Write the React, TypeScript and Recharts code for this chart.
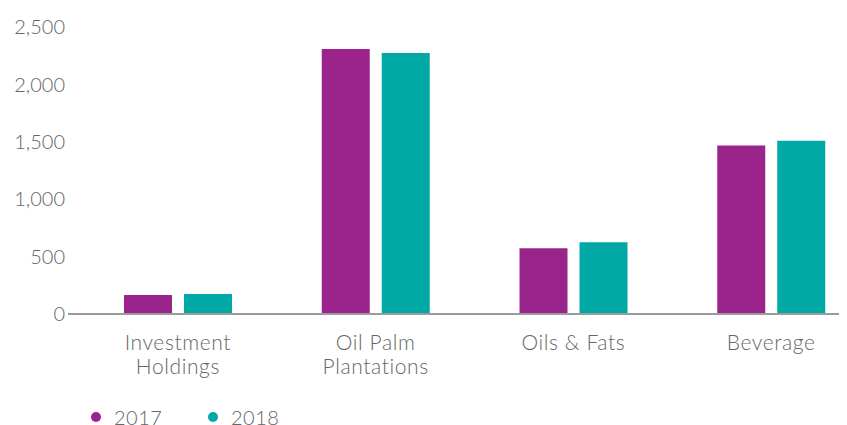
import React from "react"
import { BarChart, Bar, XAxis, YAxis, Legend } from "recharts"

// ── Data ──────────────────────────────────────────────────────────────────────

const CATEGORIES = [
  "Investment\nHoldings",
  "Oil Palm\nPlantations",
  "Oils & Fats",
  "Beverage"
]
const SERIES_2017 = [165, 2309, 573, 1467]
const SERIES_2018 = [174, 2274, 625, 1510]
const Y_TICKS = [0, 500, 1000, 1500, 2000, 2500]

const data = CATEGORIES.map((name, i) => ({
  name,
  y2017: SERIES_2017[i],
  y2018: SERIES_2018[i]
}))

// ── Styles ────────────────────────────────────────────────────────────────────

const COLORS = {
  purple: "#9b248c",
  teal: "#00a9a5",
  text: "#666666",
  axis: "#9b9b9b"
}
const FONT = "Lato, 'Open Sans', sans-serif"
const FONT_SIZE = 20

const fmt = (v: number) => v.toLocaleString("en-US")

const CategoryTick = (props: any) => {
  const { x, y, payload } = props
  const lines = String(payload.value).split("\n")
  return (
    <text
      x={x}
      y={y + 21}
      textAnchor="middle"
      fill={COLORS.text}
      fontFamily={FONT}
      fontWeight={300}
      fontSize={21}
      letterSpacing={0.6}
    >
      {lines.map((l, i) => (
        <tspan key={i} x={x} dy={i === 0 ? "0.35em" : 24}>
          {l}
        </tspan>
      ))}
    </text>
  )
}

const LegendContent = () => (
  <div
    style={{
      display: "flex",
      alignItems: "center",
      height: 16,
      paddingLeft: 83,
      fontFamily: FONT,
      fontWeight: 300,
      fontSize: FONT_SIZE,
      color: COLORS.text,
      overflow: "visible"
    }}
  >
    {[
      { label: "2017", color: COLORS.purple, width: 117 },
      { label: "2018", color: COLORS.teal, width: 120 }
    ].map(item => (
      <div
        key={item.label}
        style={{ display: "flex", alignItems: "center", width: item.width }}
      >
        <span
          style={{
            width: 10,
            height: 10,
            borderRadius: "50%",
            background: item.color,
            marginRight: 13
          }}
        />
        <span style={{ lineHeight: "16px", letterSpacing: 0.5 }}>
          {item.label}
        </span>
      </div>
    ))}
  </div>
)

export default function App() {
  return (
    <BarChart
      width={839}
      height={417}
      data={data}
      margin={{ top: 19, right: 0, bottom: 0, left: 0 }}
      barSize={48}
      barGap={12}
    >
      <XAxis
        dataKey="name"
        interval={0}
        height={95}
        tick={<CategoryTick />}
        tickLine={false}
        axisLine={{ stroke: COLORS.axis, strokeWidth: 2 }}
        padding={{ left: 11, right: -23 }}
      />
      <YAxis
        width={60}
        domain={[0, 2500]}
        ticks={Y_TICKS}
        tickFormatter={fmt}
        axisLine={false}
        tickLine={false}
        tickSize={0}
        tickMargin={3}
        tick={{
          fill: COLORS.text,
          fontFamily: FONT,
          fontWeight: 300,
          fontSize: FONT_SIZE
        }}
      />
      <Legend
        verticalAlign="bottom"
        align="left"
        content={<LegendContent />}
      />
      <Bar dataKey="y2017" fill={COLORS.purple} isAnimationActive={false} />
      <Bar dataKey="y2018" fill={COLORS.teal} isAnimationActive={false} />
    </BarChart>
  )
}
